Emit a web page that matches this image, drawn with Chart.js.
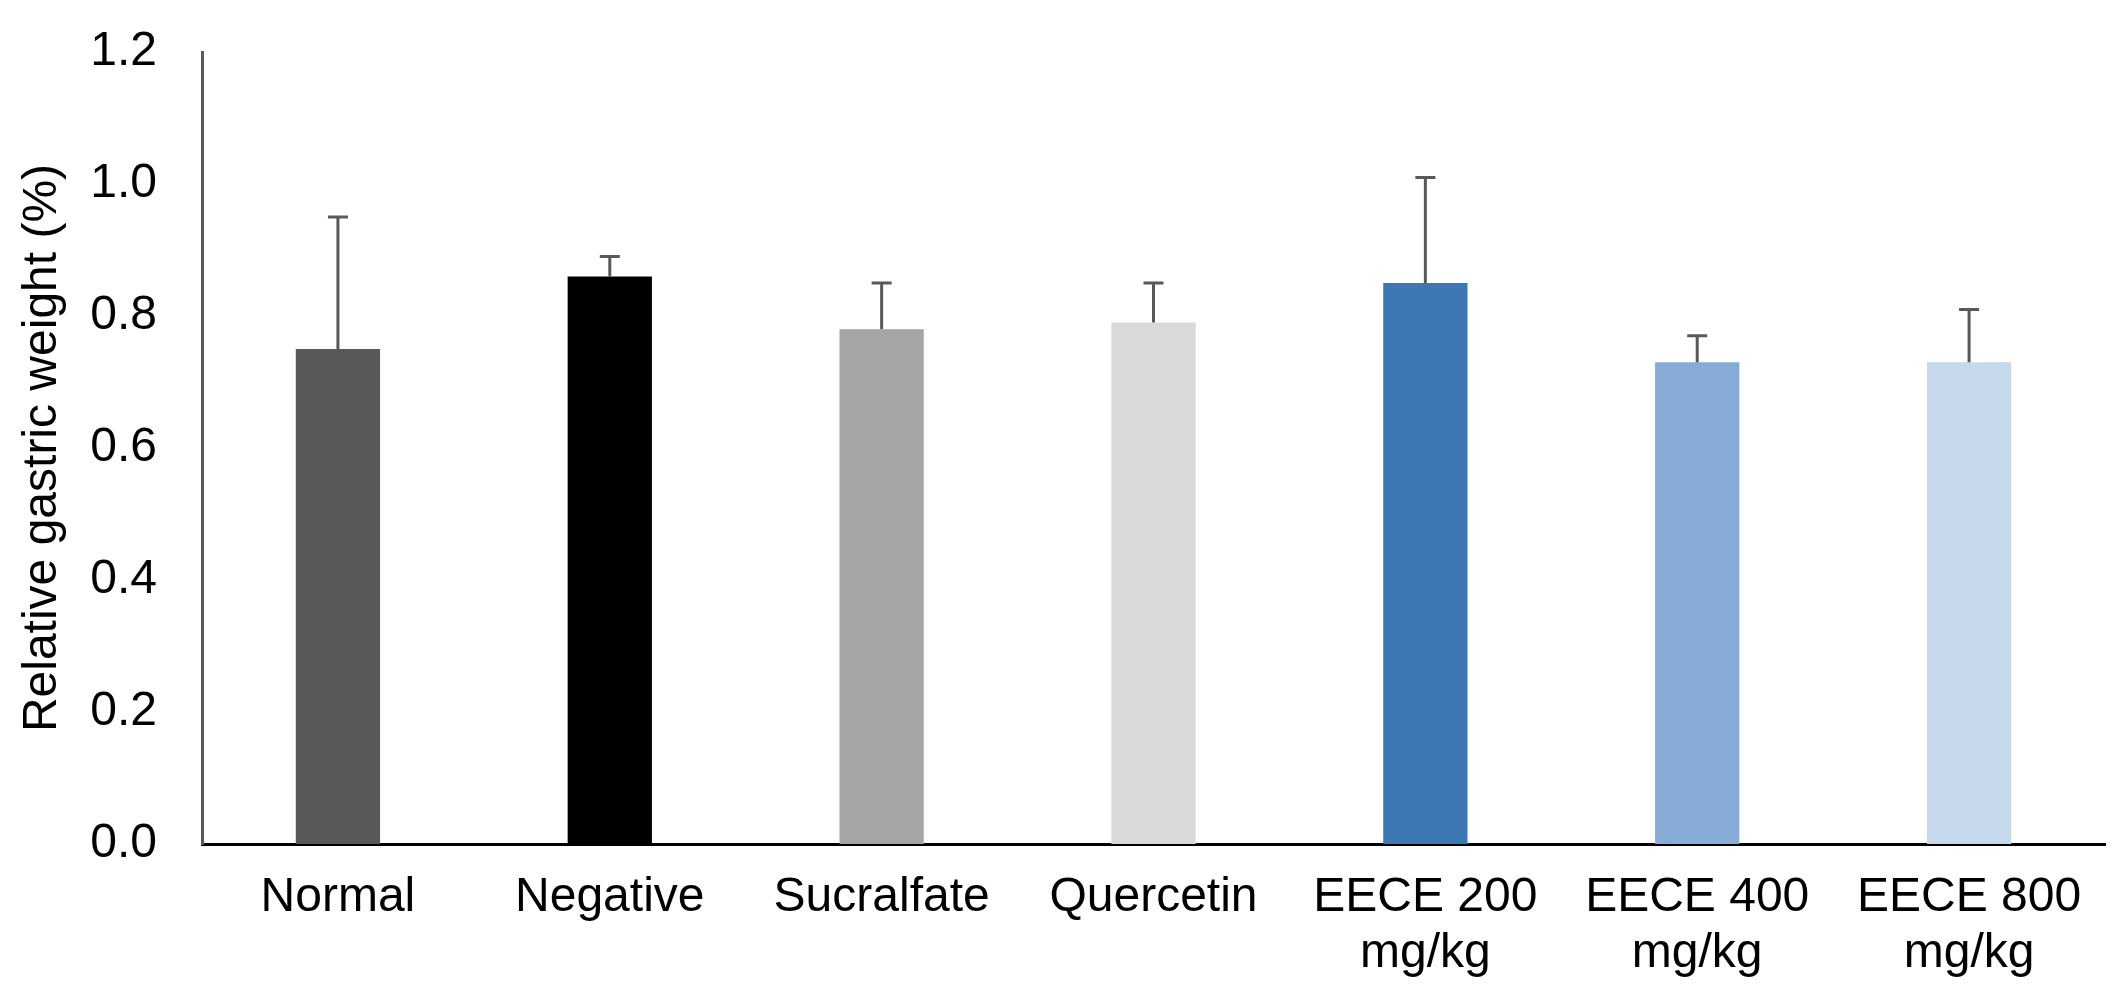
<!DOCTYPE html>
<html>
<head>
<meta charset="utf-8">
<script src="https://cdn.jsdelivr.net/npm/chart.js@4/dist/chart.umd.min.js"></script>
<style>
  html, body { margin: 0; padding: 0; background: #fff; }
  #wrap { width: 2125px; height: 1008px; }
</style>
</head>
<body>
<div id="wrap"><canvas id="c"></canvas></div>
<script>
// groups on the x axis
var groups = ['Normal', 'Negative', 'Sucralfate', 'Quercetin',
  ['EECE 200', 'mg/kg'], ['EECE 400', 'mg/kg'], ['EECE 800', 'mg/kg']];
// mean relative gastric weight (%)
var means = [0.75, 0.86, 0.78, 0.79, 0.85, 0.73, 0.73];
// upper error (SD)
var errs = [0.20, 0.03, 0.07, 0.06, 0.16, 0.04, 0.08];
var barColors = ['#595959', '#000000', '#a5a5a5', '#d9d9d9', '#3b78b5', '#86acd5', '#c6d9ec'];
var yTicks = [0, 0.2, 0.4, 0.6, 0.8, 1.0, 1.2];
var yTitle = 'Relative gastric weight (%)';

var FONT = '"Liberation Sans", Arial, sans-serif';

// error bars, upward only
var errorBars = {
  id: 'errorBars',
  afterDatasetsDraw: function(chart) {
    var ctx = chart.ctx;
    var meta = chart.getDatasetMeta(0);
    var y = chart.scales.y;
    ctx.save();
    ctx.strokeStyle = '#595959';
    ctx.lineWidth = 3;
    meta.data.forEach(function(bar, i) {
      var top = y.getPixelForValue(means[i] + errs[i]);
      var base = y.getPixelForValue(means[i]);
      ctx.beginPath();
      ctx.moveTo(bar.x, base);
      ctx.lineTo(bar.x, top);
      ctx.moveTo(bar.x - 10, top);
      ctx.lineTo(bar.x + 10, top);
      ctx.stroke();
    });
    ctx.restore();
  }
};

new Chart(document.getElementById('c'), {
  type: 'bar',
  data: {
    labels: groups,
    datasets: [{
      data: means,
      backgroundColor: barColors,
      borderWidth: 0,
      categoryPercentage: 1.0,
      barPercentage: 0.31
    }]
  },
  options: {
    responsive: true,
    maintainAspectRatio: false,
    animation: false,
    devicePixelRatio: 1,
    layout: { padding: { left: 14, right: 20, top: 52, bottom: 0 } },
    plugins: {
      legend: { display: false },
      tooltip: { enabled: false }
    },
    scales: {
      x: {
        afterFit: function(scale) { scale.height = 164; },
        grid: { display: false, drawTicks: false },
        border: { display: true, color: '#000', width: 3 },
        ticks: {
          color: '#000',
          padding: 26,
          maxRotation: 0,
          autoSkip: false,
          font: { family: FONT, size: 48, lineHeight: 1.17 }
        }
      },
      y: {
        min: 0,
        max: 1.2,
        afterBuildTicks: function(scale) {
          scale.ticks = yTicks.map(function(v) { return { value: v }; });
        },
        afterFit: function(scale) {
          scale.width = 188;
          // keep the tick padding from pushing the plot area down
          scale.paddingTop = 0;
          scale.paddingBottom = 0;
        },
        title: {
          display: true,
          text: yTitle,
          color: '#000',
          padding: 0,
          font: { family: FONT, size: 48 }
        },
        grid: { display: false, drawTicks: false },
        border: { display: true, color: '#595959', width: 3 },
        ticks: {
          color: '#000',
          padding: 45,
          font: { family: FONT, size: 48 },
          callback: function(v) { return Number(v).toFixed(1); }
        }
      }
    }
  },
  plugins: [errorBars]
});
</script>
</body>
</html>
